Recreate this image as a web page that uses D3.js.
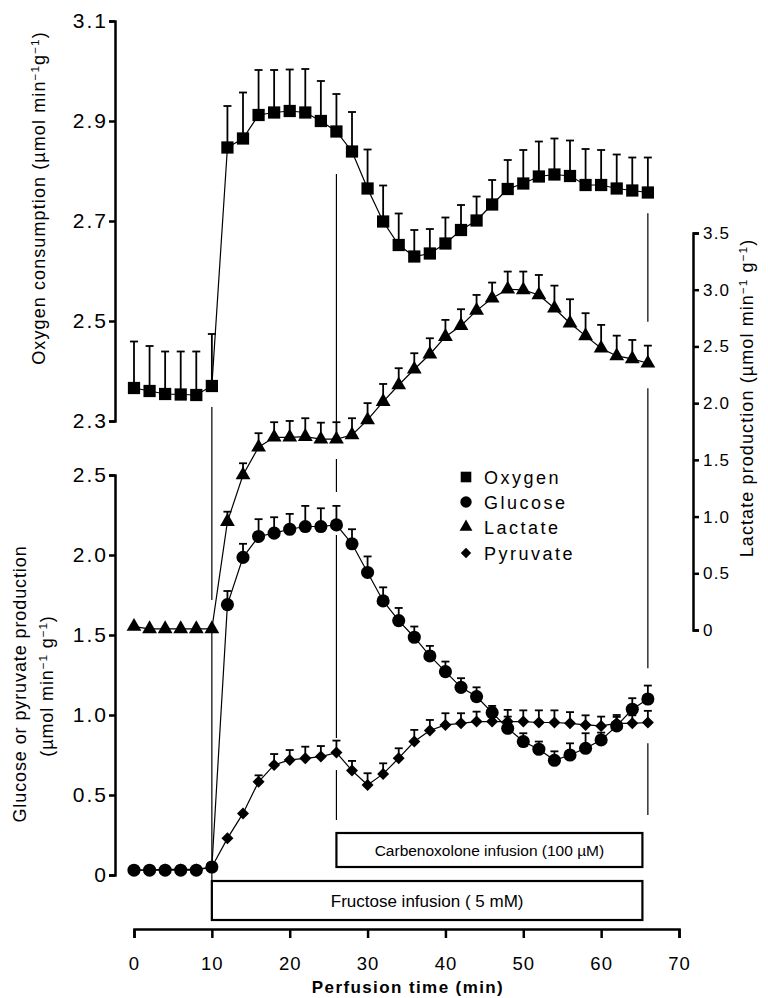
<!DOCTYPE html>
<html>
<head>
<meta charset="utf-8">
<script src="https://cdn.jsdelivr.net/npm/d3@7"></script>
<style>
body { margin: 0; background: #fff; }
text { font-family: "Liberation Sans", Arial, sans-serif; fill: #000; }
.axis path, .axis line { stroke: #000; stroke-width: 2.5; }
</style>
</head>
<body>
<div id="main_div"></div>
<script>
// perfusion time (min)
var times = [0, 2, 4, 6, 8, 10, 12, 14, 16, 18, 20, 22, 24, 26, 28, 30, 32, 34, 36, 38, 40, 42, 44, 46, 48, 50, 52, 54, 56, 58, 60, 62, 64, 66];

// oxygen consumption, left top axis
var oxygen = [2.366, 2.36, 2.354, 2.353, 2.352, 2.37, 2.847, 2.865, 2.912, 2.917, 2.92, 2.917, 2.9, 2.879, 2.839, 2.765,
    2.699, 2.652, 2.629, 2.635, 2.655, 2.682, 2.701, 2.733, 2.764, 2.775, 2.789, 2.793, 2.79, 2.772, 2.772, 2.765, 2.761, 2.757];
var oxygen_err = [0.093, 0.09, 0.085, 0.086, 0.087, 0.104, 0.083, 0.092, 0.09, 0.085, 0.083, 0.087, 0.08, 0.075, 0.079, 0.078,
    0.072, 0.063, 0.053, 0.049, 0.052, 0.05, 0.048, 0.049, 0.058, 0.067, 0.07, 0.072, 0.071, 0.072, 0.07, 0.068, 0.066, 0.07];

// lactate production, right axis
var lactate = [0.03, 0.01, 0.01, 0.01, 0.01, 0.01, 0.955, 1.367, 1.611, 1.699, 1.699, 1.705, 1.682, 1.682, 1.72, 1.852,
    2.013, 2.16, 2.299, 2.431, 2.586, 2.683, 2.816, 2.925, 3.004, 2.998, 2.954, 2.837, 2.705, 2.593, 2.484, 2.416, 2.39, 2.352];
var lactate_err = [0, 0, 0, 0, 0, 0, 0.088, 0.103, 0.124, 0.133, 0.144, 0.162, 0.146, 0.15, 0.147, 0.148,
    0.156, 0.148, 0.141, 0.141, 0.148, 0.145, 0.138, 0.138, 0.156, 0.162, 0.176, 0.199, 0.211, 0.2, 0.206, 0.179, 0.167, 0.155];

// glucose and pyruvate production, left bottom axis
var glucose = [0.03, 0.03, 0.03, 0.03, 0.03, 0.05, 1.69, 1.985, 2.116, 2.137, 2.161, 2.178, 2.178, 2.188, 2.07, 1.891,
    1.713, 1.59, 1.486, 1.369, 1.271, 1.173, 1.115, 1.015, 0.917, 0.834, 0.786, 0.717, 0.75, 0.792, 0.844, 0.932, 1.036, 1.1];
var glucose_err = [0, 0, 0, 0, 0, 0, 0.085, 0.085, 0.108, 0.099, 0.096, 0.129, 0.114, 0.119, 0.091, 0.1,
    0.085, 0.079, 0.067, 0.063, 0.063, 0.057, 0.058, 0.042, 0.073, 0.052, 0.048, 0.056, 0.073, 0.094, 0.046, 0.068, 0.069, 0.084];
var pyruvate = [0.03, 0.03, 0.035, 0.035, 0.035, 0.05, 0.229, 0.385, 0.583, 0.688, 0.719, 0.729, 0.74, 0.765, 0.653, 0.563,
    0.632, 0.73, 0.834, 0.903, 0.938, 0.948, 0.959, 0.959, 0.959, 0.959, 0.953, 0.953, 0.948, 0.938, 0.932, 0.948, 0.948, 0.953];
var pyruvate_err = [0, 0, 0, 0, 0, 0, 0, 0, 0.04, 0.068, 0.062, 0.073, 0.066, 0.075, 0.06, 0.073,
    0.066, 0.062, 0.073, 0.066, 0.073, 0.063, 0.062, 0.083, 0.073, 0.07, 0.076, 0.076, 0.07, 0.06, 0.058, 0.04, 0.05, 0.073];

// tick values
var x_ticks = [0, 10, 20, 30, 40, 50, 60, 70];
var oxy_ticks = [2.3, 2.5, 2.7, 2.9, 3.1];
var glu_ticks = [0, 0.5, 1.0, 1.5, 2.0, 2.5];
var lac_ticks = [0, 0.5, 1.0, 1.5, 2.0, 2.5, 3.0, 3.5];

// infusion bars
var infusion_labels = ["Fructose infusion ( 5 mM)", "Carbenoxolone infusion (100 \u00b5M)"];
var infusion_start = [10, 26];
var infusion_end = [65.3, 65.3];

// thin guide lines at infusion changes (pieces given in glucose-axis units)
var guide_times = [10, 26, 66];
var guide_pieces = [
    [[2.925, 1.719], [1.519, -0.031]],
    [[4.381, 2.831], [2.6, 2.394], [2.125, 0.856], [0.656, 0.344]],
    [[4.136, 3.458], [3.042, 1.292], [0.823, 0.375]]
];

var legend_names = ["Oxygen", "Glucose", "Lactate", "Pyruvate"];

var svg = d3.select("#main_div").append("svg").attr("width", 768).attr("height", 998);

var x_scale = d3.scaleLinear().domain([0, 70]).range([134, 679]);
var y_oxy = d3.scaleLinear().domain([2.3, 3.1]).range([421, 21]);
var y_glu = d3.scaleLinear().domain([0, 2.5]).range([875, 475]);
var y_lac = d3.scaleLinear().domain([0, 3.5]).range([630, 233]);

var fmt = function(d) { return d === 0 ? "0" : d3.format(".1f")(d); };

// guide lines
guide_times.forEach(function(t, i) {
    svg.append("g").selectAll("line").data(guide_pieces[i]).enter().append("line")
        .attr("x1", x_scale(t)).attr("x2", x_scale(t))
        .attr("y1", function(d) { return y_glu(d[0]); })
        .attr("y2", function(d) { return y_glu(d[1]); })
        .attr("stroke", "#000").attr("stroke-width", 1.2);
});

// infusion boxes
var box_top = [881, 833];
var box_h = [39, 34];
var box_font = [17, 15.5];
infusion_labels.forEach(function(lab, i) {
    var x0 = x_scale(infusion_start[i]), x1 = x_scale(infusion_end[i]);
    svg.append("rect").attr("x", x0).attr("y", box_top[i]).attr("width", x1 - x0).attr("height", box_h[i])
        .attr("fill", "#fff").attr("stroke", "#000").attr("stroke-width", 2.2);
    svg.append("text").attr("x", (x0 + x1) / 2).attr("y", box_top[i] + box_h[i] / 2 + box_font[i] * 0.36)
        .attr("text-anchor", "middle").attr("font-size", box_font[i]).text(lab);
});

// series
var series = [
    { vals: oxygen, err: oxygen_err, y: y_oxy, shape: "square" },
    { vals: lactate, err: lactate_err, y: y_lac, shape: "triangle" },
    { vals: glucose, err: glucose_err, y: y_glu, shape: "circle" },
    { vals: pyruvate, err: pyruvate_err, y: y_glu, shape: "diamond" }
];

function symbol_path(shape, k) {
    k = k || 1;
    if (shape == "square") return d3.symbol(d3.symbolSquare, 150 * k)();
    if (shape == "circle") return d3.symbol(d3.symbolCircle, 135 * k)();
    if (shape == "triangle") return d3.symbol(d3.symbolTriangle, 95 * k)();
    return d3.symbol(d3.symbolSquare, 72 * k)();
}

series.forEach(function(s) {
    var pts = times.map(function(t, i) { return { t: t, v: s.vals[i], e: s.err[i] }; });
    var line = d3.line().x(function(d) { return x_scale(d.t); }).y(function(d) { return s.y(d.v); });
    svg.append("path").datum(pts).attr("d", line).attr("fill", "none").attr("stroke", "#000").attr("stroke-width", 1.2);

    var eb = svg.append("g").selectAll("g").data(pts.filter(function(d) { return d.e > 0; })).enter().append("g");
    eb.append("line")
        .attr("x1", function(d) { return x_scale(d.t); }).attr("x2", function(d) { return x_scale(d.t); })
        .attr("y1", function(d) { return s.y(d.v); }).attr("y2", function(d) { return s.y(d.v + d.e); })
        .attr("stroke", "#000").attr("stroke-width", 1.8);
    eb.append("line")
        .attr("x1", function(d) { return x_scale(d.t) - 4; }).attr("x2", function(d) { return x_scale(d.t) + 4; })
        .attr("y1", function(d) { return s.y(d.v + d.e); }).attr("y2", function(d) { return s.y(d.v + d.e); })
        .attr("stroke", "#000").attr("stroke-width", 1.8);

    svg.append("g").selectAll("path").data(pts).enter().append("path")
        .attr("d", symbol_path(s.shape))
        .attr("transform", function(d) {
            return "translate(" + x_scale(d.t) + "," + s.y(d.v) + ")" + (s.shape == "diamond" ? " rotate(45)" : "");
        })
        .attr("fill", "#000");
});

// axes
var g_oxy = svg.append("g").attr("class", "axis").attr("transform", "translate(115,0)")
    .call(d3.axisLeft(y_oxy).tickValues(oxy_ticks).tickFormat(d3.format(".1f")).tickSize(6).tickPadding(1));
var g_glu = svg.append("g").attr("class", "axis").attr("transform", "translate(115,0)")
    .call(d3.axisLeft(y_glu).tickValues(glu_ticks).tickFormat(fmt).tickSize(6).tickPadding(1));
var g_lac = svg.append("g").attr("class", "axis").attr("transform", "translate(693,0)")
    .call(d3.axisRight(y_lac).tickValues(lac_ticks).tickFormat(fmt).tickSize(6).tickPadding(4));
var g_x = svg.append("g").attr("class", "axis").attr("transform", "translate(0,929)")
    .call(d3.axisBottom(x_scale).tickValues(x_ticks).tickFormat(d3.format("d")).tickSize(9).tickPadding(19));

svg.selectAll(".axis text").attr("font-family", null).attr("fill", "#000");
g_oxy.selectAll("text").attr("font-size", 21).attr("letter-spacing", 2);
g_glu.selectAll("text").attr("font-size", 21).attr("letter-spacing", 2);
g_lac.selectAll("text").attr("font-size", 17).attr("letter-spacing", 1.2);
g_x.selectAll("text").attr("font-size", 18.5).attr("letter-spacing", 1);

// axis titles
function unit_title(sel, before, gap) {
    sel.append("tspan").text(before + "(\u00b5mol min");
    sel.append("tspan").attr("dy", -6).attr("font-size", "0.65em").text("\u22121");
    sel.append("tspan").attr("dy", 6).text(gap + "g");
    sel.append("tspan").attr("dy", -6).attr("font-size", "0.65em").text("\u22121");
    sel.append("tspan").attr("dy", 6).text(")");
}

var t_oxy = svg.append("text").attr("transform", "translate(45,198) rotate(-90)")
    .attr("text-anchor", "middle").attr("font-size", 18).attr("letter-spacing", 1.1);
unit_title(t_oxy, "Oxygen consumption ", "");

svg.append("text").attr("transform", "translate(26,684) rotate(-90)")
    .attr("text-anchor", "middle").attr("font-size", 18).attr("letter-spacing", 0.9)
    .text("Glucose or pyruvate production");
var t_glu = svg.append("text").attr("transform", "translate(53,686) rotate(-90)")
    .attr("text-anchor", "middle").attr("font-size", 18).attr("letter-spacing", 0.9);
unit_title(t_glu, "", " ");

var t_lac = svg.append("text").attr("transform", "translate(753,398) rotate(-90)")
    .attr("text-anchor", "middle").attr("font-size", 18).attr("letter-spacing", 1.1);
unit_title(t_lac, "Lactate production ", " ");

svg.append("text").attr("x", 408).attr("y", 993).attr("text-anchor", "middle")
    .attr("font-size", 17).attr("font-weight", "bold").attr("letter-spacing", 1.4)
    .text("Perfusion time (min)");

// legend
var legend_shapes = ["square", "circle", "triangle", "diamond"];
var legend_y = [477, 502, 527, 553];
var lg = svg.append("g").selectAll("g").data(legend_names).enter().append("g");
lg.append("path")
    .attr("d", function(d, i) { return symbol_path(legend_shapes[i], 0.75); })
    .attr("transform", function(d, i) {
        return "translate(466," + legend_y[i] + ")" + (legend_shapes[i] == "diamond" ? " rotate(45)" : "");
    })
    .attr("fill", "#000");
lg.append("text").attr("x", 484).attr("y", function(d, i) { return legend_y[i] + 6.5; })
    .attr("font-size", 18).attr("letter-spacing", 2.5).text(function(d) { return d; });
</script>
</body>
</html>
